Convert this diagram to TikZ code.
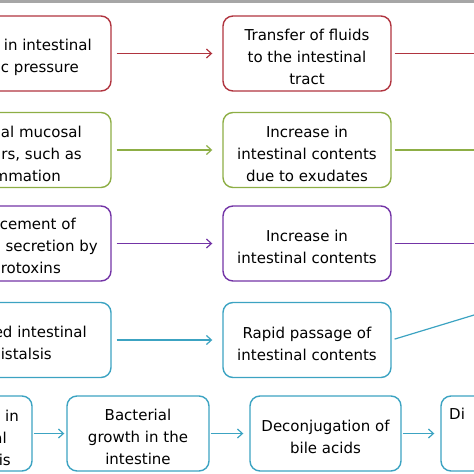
\documentclass[tikz,border=0pt]{standalone}
\usepackage{fontspec}
\setmainfont{DejaVu Sans}
\usetikzlibrary{arrows.meta}
\definecolor{cred}{HTML}{B0343F}
\definecolor{cgreen}{HTML}{8DAE45}
\definecolor{cpurple}{HTML}{7334A6}
\definecolor{cteal}{HTML}{3CA3C2}
\newcommand{\fsz}{\fontsize{15}{22}\selectfont}
\tikzset{
  box/.style={draw=#1, line width=1.4pt, rounded corners=10pt, minimum height=75pt, inner sep=0pt},
  txt/.style={font=\fsz, align=center, inner sep=0pt, text=black, yshift=-3.5pt},
  lab/.style={font=\fsz, align=right, inner sep=0pt, text=black},
  arr/.style={draw=#1, line width=1.2pt, -{Straight Barb[length=5pt,width=9pt,line width=1.2pt]}},
  ln/.style={draw=#1, line width=1.2pt}
}
\begin{document}
\begin{tikzpicture}[x=1pt,y=-1pt]
\useasboundingbox (0,0) rectangle (474,474);
\clip (0,0) rectangle (474,474);
\fill[gray!70] (0,0) rectangle (474,2.5);
% row 1
\node[box=cred, minimum width=168pt] (l1) at (27,53.5) {};
\node[lab, anchor=east] (t1) at (92,57.5) {in intestinal\\c pressure\kern13pt};
\node[box=cred, minimum width=168pt] (m1) at (307,53.5) {};
\node[txt] (m1t) at (m1.center) {Transfer of fluids\\to the intestinal\\tract};
\coordinate (e1) at (480,53.5);
\draw[arr=cred, shorten <=5pt, shorten >=10pt] (l1.east) -- (m1.west);
\draw[ln=cred, shorten <=3pt] (m1.east) -- (e1);
% row 2
\node[box=cgreen, minimum width=168pt] (l2) at (27,150) {};
\node[lab, anchor=east] (t2) at (82,153.5) {al mucosal\\rs, such as\\mmation\kern21pt};
\node[box=cgreen, minimum width=168pt] (m2) at (307,150) {};
\node[txt] (m2t) at (m2.center) {Increase in\\intestinal contents\\due to exudates};
\coordinate (e2) at (480,150);
\draw[arr=cgreen, shorten <=5pt, shorten >=10pt] (l2.east) -- (m2.west);
\draw[ln=cgreen, shorten <=3pt] (m2.east) -- (e2);
% row 3
\node[box=cpurple, minimum width=168pt] (l3) at (27,243.5) {};
\node[lab, anchor=east] (t3) at (98,246) {cement of\kern22pt\\secretion by\\rotoxins\kern37pt};
\node[box=cpurple, minimum width=168pt] (m3) at (307,243.5) {};
\node[txt] (m3t) at (m3.center) {Increase in\\intestinal contents};
\coordinate (e3) at (480,243.5);
\draw[arr=cpurple, shorten <=5pt, shorten >=10pt] (l3.east) -- (m3.west);
\draw[ln=cpurple, shorten <=3pt] (m3.east) -- (e3);
% row 4
\node[box=cteal, minimum width=168pt] (l4) at (27,340) {};
\node[lab, anchor=east] (t4) at (87,343) {ed intestinal\\istalsis\kern35pt};
\node[box=cteal, minimum width=168pt] (m4) at (307,340) {};
\node[txt] (m4t) at (m4.center) {Rapid passage of\\intestinal contents};
\coordinate (e4) at (480,313.2);
\draw[arr=cteal, shorten <=5pt, shorten >=10pt] (l4.east) -- (m4.west);
\draw[ln=cteal, shorten <=3pt] (m4.east) -- (e4);
% row 5
\node[box=cteal, minimum width=150pt] (b1) at (-43,433.5) {};
\node[lab, anchor=east] (tb1) at (19,437.5) {in\\al\kern12pt\\is\kern8pt};
\node[box=cteal, minimum width=142pt] (b2) at (138,433.5) {};
\node[txt] (b2t) at (b2.center) {Bacterial\\growth in the\\intestine};
\node[box=cteal, minimum width=151pt] (b3) at (325.5,433.5) {};
\node[txt] (b3t) at (b3.center) {Deconjugation of\\bile acids};
\node[box=cteal, minimum width=150pt] (b4) at (516,433.5) {};
\node[lab, anchor=west] (tb4) at (449,414) {Di};
\draw[arr=cteal, shorten <=1pt, shorten >=2pt] (b1.east) -- (b2.west);
\draw[arr=cteal, shorten <=1pt, shorten >=6pt] (b2.east) -- (b3.west);
\draw[arr=cteal, shorten <=1pt, shorten >=6pt] (b3.east) -- (b4.west);
\end{tikzpicture}
\end{document}
